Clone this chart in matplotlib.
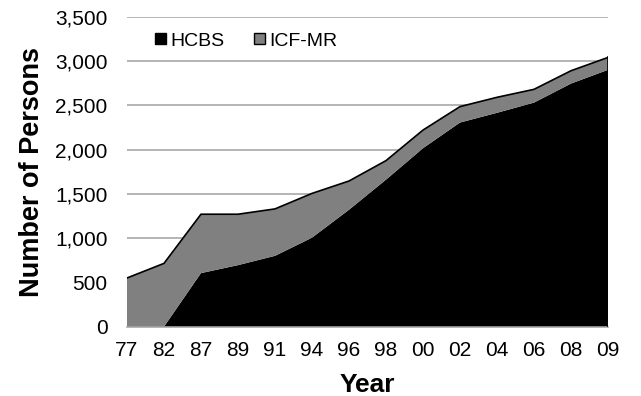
import matplotlib
matplotlib.use('Agg')
import matplotlib.pyplot as plt
from matplotlib.patches import Patch

plt.rcParams['font.family'] = ['Liberation Sans', 'DejaVu Sans']

years = ['77', '82', '87', '89', '91', '94', '96', '98', '00', '02', '04', '06', '08', '09']
hcbs = [0, 0, 605, 695, 800, 1005, 1320, 1660, 2015, 2305, 2415, 2530, 2745, 2900]
icf_mr = [550, 715, 665, 575, 530, 500, 325, 215, 205, 180, 175, 150, 145, 140]

x = list(range(len(years)))
total = [a + b for a, b in zip(hcbs, icf_mr)]

fig = plt.figure(figsize=(6.41, 3.96), dpi=100)
ax = fig.add_axes([0.1981, 0.175, 0.7504, 0.7828])

ax.stackplot(x, hcbs, icf_mr, colors=['#000000', '#808080'], linewidth=0)
# outline along the top of the stack and down the last year
ax.plot(x, total, color='black', linewidth=1.2, zorder=3)
ax.plot([x[-1], x[-1]], [0, total[-1]], color='black', linewidth=1.2, zorder=3)

ax.set_xlim(0, len(years) - 1)
ax.set_ylim(0, 3500)
ax.set_yticks(range(0, 3501, 500))
ax.set_yticklabels([f'{v:,}' for v in range(0, 3501, 500)])
ax.set_xticks(x)
ax.set_xticklabels(years)
ax.tick_params(length=0, labelsize=15)
ax.tick_params(axis='x', pad=10)
ax.tick_params(axis='y', pad=14)

ax.grid(axis='y', color='#a0a0a0', linewidth=1.1)
ax.set_axisbelow(True)
for s in ['top', 'right', 'left']:
    ax.spines[s].set_visible(False)
ax.spines['bottom'].set_color('#a0a0a0')
ax.spines['bottom'].set_linewidth(1.1)

fig.text(32 / 641, 1 - 172 / 396, 'Number of Persons', rotation=90,
         ha='center', va='center', fontsize=19.5, fontweight='bold')
fig.text(367 / 641, 1 - 392 / 396, 'Year', ha='center', va='baseline',
         fontsize=19, fontweight='bold')

handles = [Patch(facecolor='black', edgecolor='black', label='HCBS'),
           Patch(facecolor='#808080', edgecolor='black', label='ICF-MR')]
fig.legend(handles=handles, loc='center left',
           bbox_to_anchor=(155 / 641, 1 - 41 / 396), ncol=2,
           frameon=False, fontsize=14, handlelength=0.55, handleheight=0.55,
           handletextpad=0.25, columnspacing=1.5, borderpad=0, borderaxespad=0)

fig.savefig('out.png', dpi=100)
